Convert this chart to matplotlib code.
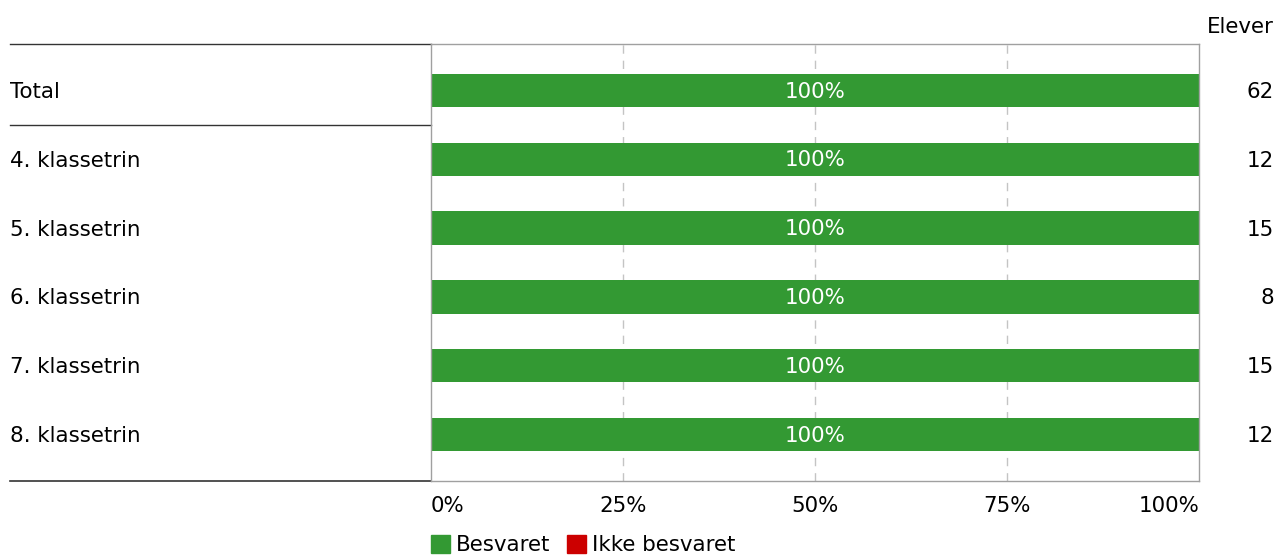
import matplotlib.pyplot as plt
from matplotlib.lines import Line2D
from matplotlib.patches import Patch

# data
kategorier = ['Total', '4. klassetrin', '5. klassetrin', '6. klassetrin', '7. klassetrin', '8. klassetrin']
besvaret = [100, 100, 100, 100, 100, 100]
ikke_besvaret = [0, 0, 0, 0, 0, 0]
elever = [62, 12, 15, 8, 15, 12]
ticks = [0, 25, 50, 75, 100]
tick_labels = ['0%', '25%', '50%', '75%', '100%']

GRON = '#339933'
ROD = '#cc0000'
plt.rcParams['font.family'] = 'DejaVu Sans'
plt.rcParams['font.size'] = 15.4

fig = plt.figure(figsize=(12.79, 5.56), dpi=100)
W, H = 1279, 556
ax = fig.add_axes([431 / W, 1 - 481 / H, 768 / W, 437 / H])

y = list(range(len(kategorier)))
ax.barh(y, besvaret, height=0.48, color=GRON, zorder=2)
ax.barh(y, ikke_besvaret, left=besvaret, height=0.48, color=ROD, zorder=2)
for yi, v in zip(y, besvaret):
    ax.text(v / 2, yi + 0.02, f'{v}%', color='white', ha='center', va='center', zorder=3)

ax.set_xlim(0, 100)
ax.set_ylim(len(kategorier) - 0.33, -0.67)
ax.set_yticks([])
ax.set_xticks(ticks)
ax.set_xticklabels([])
ax.tick_params(axis='x', length=0)
for t in [25, 50, 75]:
    ax.axvline(t, color='#c4c4c4', linestyle=(0, (6, 5)), linewidth=1, zorder=1)
for s in ax.spines.values():
    s.set_color('#a0a0a0')
    s.set_linewidth(1)

# tick labels, first left, last right
for i, (t, lab) in enumerate(zip(ticks, tick_labels)):
    ha = 'left' if i == 0 else ('right' if i == len(ticks) - 1 else 'center')
    ax.text(t, -25.5 / 437, lab, transform=ax.get_xaxis_transform(), ha=ha, va='center')

# kategori labels and elever
for yi, k, n in zip(y, kategorier, elever):
    ypos = 1 - (45.5 + (yi + 0.67) * 437 / 6.34) / H
    fig.text(10 / W, ypos, k, ha='left', va='center')
    fig.text(1274 / W, ypos, str(n), ha='right', va='center')
fig.text(1274 / W, 1 - 27 / H, 'Elever', ha='right', va='center')

# left-side lines
xl = (10 - 431) / 768
for yy in [-0.67, 0.5]:
    ax.add_line(Line2D([xl, 0], [yy, yy], color='#333333', linewidth=1,
                       transform=ax.get_yaxis_transform(), clip_on=False))
ax.add_line(Line2D([xl, 0], [0, 0], color='#333333', linewidth=1.2,
                   transform=ax.transAxes, clip_on=False))

# legend
handles = [Patch(color=GRON, label='Besvaret'), Patch(color=ROD, label='Ikke besvaret')]
fig.legend(handles=handles, loc='center left', bbox_to_anchor=(431 / W, 1 - 545 / H), ncol=2,
           frameon=False, handlelength=0.9, handleheight=0.9, handletextpad=0.25, columnspacing=0.8,
           borderaxespad=0, borderpad=0)

fig.savefig('out.png', dpi=100)
